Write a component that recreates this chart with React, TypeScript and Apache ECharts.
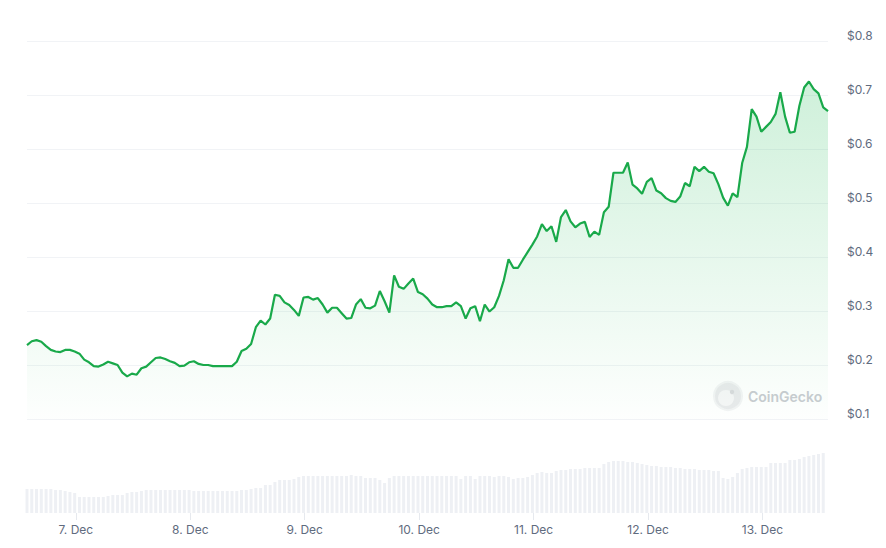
import React, { useEffect, useRef } from "react";
import * as echarts from "echarts";

// Hourly prices (USD), starting 6 Dec 13:45, ending 13 Dec 13:45
const prices: number[] = [
  0.237, 0.244, 0.246, 0.243, 0.235, 0.228, 0.225, 0.224, 0.228, 0.228,
  0.225, 0.221, 0.210, 0.205, 0.198, 0.197, 0.201, 0.206, 0.203, 0.200,
  0.186, 0.179, 0.184, 0.182, 0.194, 0.197, 0.205, 0.213, 0.214, 0.211,
  0.207, 0.204, 0.198, 0.199, 0.205, 0.207, 0.202, 0.200, 0.200, 0.198,
  0.198, 0.198, 0.198, 0.198, 0.206, 0.226, 0.230, 0.239, 0.270, 0.282,
  0.275, 0.286, 0.330, 0.328, 0.316, 0.311, 0.302, 0.291, 0.325, 0.326,
  0.321, 0.324, 0.312, 0.297, 0.306, 0.306, 0.296, 0.286, 0.287, 0.312,
  0.322, 0.306, 0.305, 0.310, 0.337, 0.318, 0.297, 0.366, 0.345, 0.341,
  0.351, 0.360, 0.335, 0.331, 0.323, 0.312, 0.307, 0.307, 0.309, 0.309,
  0.316, 0.309, 0.286, 0.305, 0.309, 0.281, 0.312, 0.299, 0.307, 0.328,
  0.357, 0.396, 0.380, 0.380, 0.395, 0.409, 0.423, 0.438, 0.461, 0.448,
  0.457, 0.428, 0.474, 0.487, 0.466, 0.455, 0.462, 0.465, 0.437, 0.447,
  0.441, 0.483, 0.493, 0.556, 0.556, 0.556, 0.575, 0.534, 0.527, 0.517,
  0.539, 0.546, 0.523, 0.518, 0.509, 0.504, 0.502, 0.512, 0.537, 0.531,
  0.567, 0.559, 0.567, 0.558, 0.555, 0.535, 0.510, 0.495, 0.518, 0.511,
  0.574, 0.604, 0.674, 0.660, 0.632, 0.641, 0.650, 0.665, 0.705, 0.660,
  0.630, 0.632, 0.680, 0.714, 0.725, 0.711, 0.703, 0.677, 0.670,
];

// Hourly traded volume (relative units)
const volumes: number[] = [
  24, 24, 24, 24, 24, 24, 23, 23, 22, 21,
  20, 16, 16, 16, 16, 16, 16, 17, 18, 18,
  18, 20, 21, 21, 22, 23, 23, 23, 23, 23,
  23, 23, 23, 23, 23, 22, 22, 22, 22, 22,
  22, 22, 22, 22, 22, 23, 23, 24, 25, 25,
  28, 28, 31, 33, 33, 33, 34, 36, 37, 37,
  37, 37, 37, 37, 37, 37, 37, 37, 38, 37,
  37, 35, 35, 35, 33, 30, 35, 37, 37, 37,
  37, 37, 37, 37, 37, 37, 37, 37, 37, 37,
  37, 34, 37, 37, 34, 37, 37, 37, 36, 37,
  37, 36, 34, 35, 35, 36, 38, 40, 41, 40,
  40, 42, 43, 43, 44, 44, 44, 45, 45, 45,
  45, 49, 51, 52, 52, 52, 51, 51, 50, 49,
  48, 47, 47, 46, 46, 46, 45, 45, 44, 44,
  44, 43, 43, 43, 42, 42, 35, 34, 36, 40,
  44, 45, 46, 46, 46, 46, 50, 50, 50, 50,
  53, 53, 54, 56, 57, 58, 59, 60,
];

// First sample, in hours relative to 7 Dec 00:00
const startHour = -10.25;
const dayLabels: string[] = ["7. Dec", "8. Dec", "9. Dec", "10. Dec", "11. Dec", "12. Dec", "13. Dec"];
const dayHours: number[] = [0, 24, 48, 72, 96, 120, 144];
const yTicks: number[] = [0.1, 0.2, 0.3, 0.4, 0.5, 0.6, 0.7, 0.8];

export default function App() {
  const ref = useRef<HTMLDivElement>(null);

  useEffect(() => {
    if (!ref.current) return;
    const chart = echarts.init(ref.current, undefined, { renderer: "svg" });
    const priceData = prices.map((p, i) => [startHour + i, p]);
    const volData = volumes.map((v, i) => [startHour + i, v]);
    const xMin = startHour;
    const xMax = startHour + prices.length - 1;
    const labelColor = "#5f6b7e";
    const font = "Inter, 'Noto Sans', sans-serif";

    chart.setOption({
      animation: false,
      backgroundColor: "#ffffff",
      grid: [
        { left: 27, right: 58, top: 41, bottom: 129 },
        { left: 27, right: 58, top: 453, bottom: 35 },
      ],
      xAxis: [
        {
          type: "value",
          gridIndex: 0,
          min: xMin,
          max: xMax,
          show: false,
        },
        {
          type: "value",
          gridIndex: 1,
          min: xMin,
          max: xMax,
          axisLine: { show: false },
          splitLine: { show: false },
          axisTick: {
            show: true,
            length: 7,
            customValues: dayHours,
            lineStyle: { color: "#e6e9ee", width: 1 },
          },
          axisLabel: {
            customValues: dayHours,
            margin: 10,
            color: labelColor,
            fontSize: 12,
            fontFamily: font,
            formatter: (v: number) => {
              const idx = dayHours.indexOf(Math.round(v));
              return idx >= 0 ? dayLabels[idx] : "";
            },
          },
        },
      ],
      yAxis: [
        {
          type: "value",
          gridIndex: 0,
          position: "right",
          min: yTicks[0],
          max: yTicks[yTicks.length - 1],
          interval: 0.1,
          axisLine: { show: false },
          axisTick: { show: false },
          splitLine: { lineStyle: { color: "#f1f3f6", width: 1 } },
          axisLabel: {
            margin: 19,
            align: "left",
            verticalAlign: "bottom",
            color: labelColor,
            fontSize: 12,
            fontFamily: font,
            formatter: (v: number) => "$" + (Math.round(v * 10) / 10).toFixed(1),
          },
        },
        {
          type: "value",
          gridIndex: 1,
          min: 0,
          max: 60,
          show: false,
        },
      ],
      series: [
        {
          type: "bar",
          xAxisIndex: 1,
          yAxisIndex: 1,
          data: volData,
          barWidth: 3,
          itemStyle: { color: "#eef0f4" },
          silent: true,
        },
        {
          type: "line",
          xAxisIndex: 0,
          yAxisIndex: 0,
          data: priceData,
          showSymbol: false,
          symbol: "none",
          lineStyle: { color: "#19a94a", width: 2.2 },
          areaStyle: {
            color: new echarts.graphic.LinearGradient(0, 0, 0, 1, [
              { offset: 0, color: "rgba(25,185,80,0.30)" },
              { offset: 1, color: "rgba(25,185,80,0.01)" },
            ]),
          },
          z: 3,
        },
      ],
      graphic: [
        {
          type: "group",
          left: 713,
          top: 381,
          children: [
            { type: "circle", shape: { cx: 15, cy: 15, r: 14 }, style: { fill: "#e9eaec", stroke: "#f3f4f5", lineWidth: 2 } },
            { type: "circle", shape: { cx: 13, cy: 17, r: 8 }, style: { fill: "#f6f6f7" } },
            { type: "circle", shape: { cx: 19, cy: 11, r: 2.2 }, style: { fill: "#d9dadd" } },
            {
              type: "text",
              x: 35,
              y: 15,
              style: {
                text: "CoinGecko",
                fill: "#c9ccd1",
                fontSize: 14,
                fontWeight: 600,
                fontFamily: font,
                verticalAlign: "middle",
              },
            },
          ],
        },
      ],
    });

    return () => chart.dispose();
  }, []);

  return (
    <div
      ref={ref}
      style={{ position: "fixed", left: 0, top: 0, width: 886, height: 548, background: "#fff" }}
    />
  );
}
